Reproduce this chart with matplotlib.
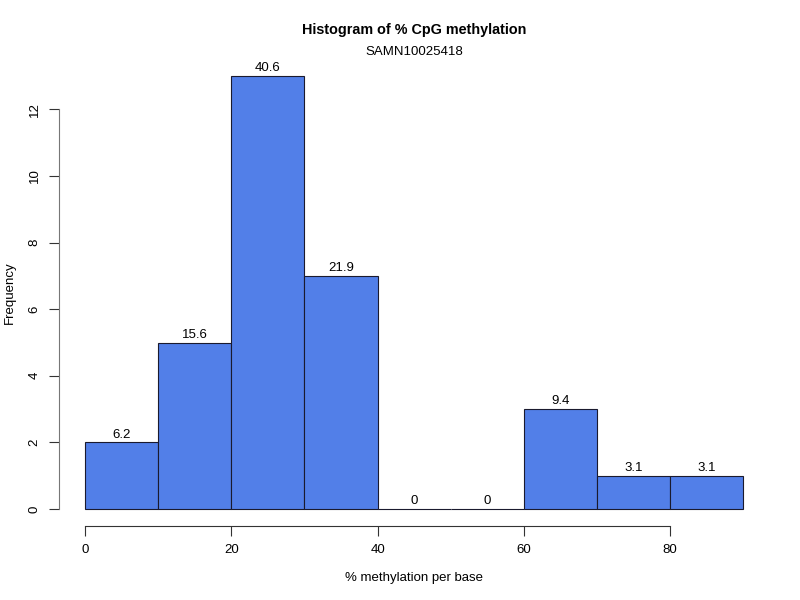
import numpy as np
import matplotlib
matplotlib.use("Agg")
import matplotlib.pyplot as plt

plt.rcParams["font.family"] = ["Liberation Sans", "DejaVu Sans"]

# histogram data (bin edges and counts)
bin_edges = [0, 10, 20, 30, 40, 50, 60, 70, 80, 90]
counts = [2, 5, 13, 7, 0, 0, 3, 1, 1]
pct_labels = ["6.2", "15.6", "40.6", "21.9", "0", "0", "9.4", "3.1", "3.1"]
x_ticks = [0, 20, 40, 60, 80]
y_ticks = [0, 2, 4, 6, 8, 10, 12]

fig = plt.figure(figsize=(8, 6), dpi=100)
ax = fig.add_axes([0.0734, 0.1228, 0.962 - 0.0734, 0.902 - 0.1228])

lefts = np.array(bin_edges[:-1])
widths = np.diff(bin_edges)
ax.bar(lefts, counts, width=widths, align="edge", color="#527FE8",
       edgecolor="#1a1a2e", linewidth=0.8)

for x, w, c, lab in zip(lefts, widths, counts, pct_labels):
    ax.text(x + w / 2, c + 0.05, lab, ha="center", va="bottom", fontsize=9.5)

# R-style axes: 4% padding, detached axis lines
ax.set_xlim(-3.6, 93.6)
ax.set_ylim(-0.52, 13.52)
for s in ["top", "right"]:
    ax.spines[s].set_visible(False)
ax.spines["left"].set_bounds(0, 12)
ax.spines["bottom"].set_bounds(0, 80)
ax.spines["left"].set_color("#777777")
ax.spines["bottom"].set_color("#333333")
ax.set_xticks(x_ticks)
ax.set_yticks(y_ticks)
ax.tick_params(axis="both", length=7, width=0.8, color="#333333", labelsize=9.5)
ax.tick_params(axis="x", pad=6)
ax.tick_params(axis="y", pad=6)
for t in ax.get_yticklabels():
    t.set_rotation(90)
    t.set_va("center")

ax.set_xlabel("% methylation per base", fontsize=9.5)
ax.set_ylabel("Frequency", fontsize=9.5)
ax.xaxis.set_label_coords(0.5, -0.1106)
ax.yaxis.set_label_coords(-0.0685, 0.5)
ax.xaxis.label.set_va("center")
ax.yaxis.label.set_va("center")

ax.text(0.5, 1.0 + (58.7 - 30) / 467.6, "Histogram of % CpG methylation",
        transform=ax.transAxes, ha="center", va="center",
        fontsize=10.4, fontweight="bold")
ax.text(0.5, 1.0 + (58.7 - 52) / 467.6, "SAMN10025418",
        transform=ax.transAxes, ha="center", va="center", fontsize=9.5)

fig.savefig("out.png", dpi=100)
